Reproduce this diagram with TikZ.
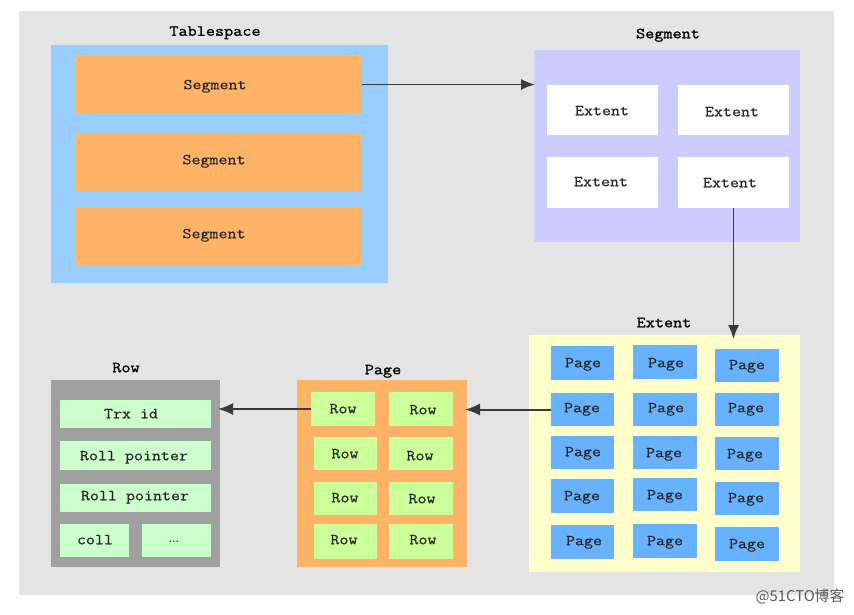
\documentclass[tikz,border=0pt]{standalone}
\usepackage{fontspec}
\usepackage{tikz}
\usetikzlibrary{arrows.meta}
\newfontfamily\cellfont[FakeStretch=1.15,FakeBold=0.4]{Latin Modern Mono}
\newfontfamily\lblfont[FakeStretch=1.15,FakeBold=1.2]{Latin Modern Mono}
\newfontfamily\markfont{Noto Sans CJK SC}
\definecolor{bgc}{HTML}{E4E4E4}
\definecolor{tsc}{HTML}{99CCFF}
\definecolor{orc}{HTML}{FFB366}
\definecolor{sgc}{HTML}{CCCCFF}
\definecolor{exc}{HTML}{FFFFCC}
\definecolor{pgc}{HTML}{66B2FF}
\definecolor{rwc}{HTML}{CCFF99}
\definecolor{fdc}{HTML}{CCFFCC}
\definecolor{grc}{HTML}{A0A0A0}
\definecolor{arc}{HTML}{3A3A3A}
\tikzset{
  panel/.style={inner sep=0pt,outer sep=0pt,draw=none},
  celltext/.style={inner sep=0pt,text=black!85,font=\fontsize{15.2}{16}\cellfont,text height=7.5pt,text depth=0pt},
  title/.style={inner sep=0pt,text=black,font=\fontsize{15.4}{16}\lblfont,text height=7.5pt,text depth=0pt},
  thinarrow/.style={draw=arc,line width=1.6pt,shorten >=-1pt,-{Latex[length=14pt,width=11pt]}},
  thickarrow/.style={draw=arc,line width=2pt,shorten >=-2pt,-{Latex[length=15pt,width=12pt]}}
}
% name, x0,y0,x1,y1, colour
\newcommand{\pbox}[6]{%
  \pgfmathsetmacro{\pcx}{(#2+#4)/2}\pgfmathsetmacro{\pcy}{(#3+#5)/2}%
  \pgfmathsetmacro{\pw}{#4-#2}\pgfmathsetmacro{\ph}{#5-#3}%
  \node[panel,fill=#6,minimum width=\pw pt,minimum height=\ph pt] (#1) at (\pcx,\pcy) {};}
% name, x0,y0,x1,y1, colour, tx,ty, text
\newcommand{\tbox}[9]{\pbox{#1}{#2}{#3}{#4}{#5}{#6}\node[celltext] (#1-t) at (#7,#8) {#9};}
\begin{document}
\begin{tikzpicture}[x=1pt,y=-1pt]
\useasboundingbox (0,0) rectangle (854,614);
\fill[bgc,rounded corners=2pt] (19,11) rectangle (834,595);

% Tablespace
\node[title] (ttable) at (215,32) {Tablespace};
\pbox{table}{51}{45}{388}{283}{tsc}
\tbox{s1}{76}{56}{362}{113}{orc}{215}{85.5}{Segment}
\tbox{s2}{76}{134}{362}{191}{orc}{214}{160.5}{Segment}
\tbox{s3}{76}{208}{362}{265}{orc}{214}{234.5}{Segment}

% Segment
\node[title] (tseg) at (668,34.5) {Segment};
\pbox{seg}{534}{50}{800}{242}{sgc}
\tbox{e1}{547}{85}{658}{135}{white}{602}{111.5}{Extent}
\tbox{e2}{678}{85}{789}{135}{white}{732}{112.5}{Extent}
\tbox{e3}{547}{157}{658}{208}{white}{601}{182.5}{Extent}
\tbox{e4}{678}{157}{789}{208}{white}{730}{183.5}{Extent}

% Extent
\node[title] (text) at (664,323.5) {Extent};
\pbox{ext}{529}{335}{800}{572}{exc}
\tbox{p11}{551}{346}{614}{380}{pgc}{583}{363.5}{Page}
\tbox{p12}{551}{393}{614}{426}{pgc}{582}{408.5}{Page}
\tbox{p13}{551}{436}{614}{469}{pgc}{583}{452.5}{Page}
\tbox{p14}{551}{479}{614}{513}{pgc}{582}{496.5}{Page}
\tbox{p15}{551}{525}{614}{559}{pgc}{584}{541.5}{Page}
\tbox{p21}{633}{345}{697}{379}{pgc}{666}{363.5}{Page}
\tbox{p22}{633}{393}{697}{426}{pgc}{666}{408.5}{Page}
\tbox{p23}{633}{436}{697}{469}{pgc}{664}{453.5}{Page}
\tbox{p24}{633}{478}{697}{511}{pgc}{665}{495.5}{Page}
\tbox{p25}{633}{524}{697}{558}{pgc}{665}{541.5}{Page}
\tbox{p31}{715}{349}{779}{382}{pgc}{747}{365.5}{Page}
\tbox{p32}{715}{393}{779}{426}{pgc}{746}{408.5}{Page}
\tbox{p33}{715}{437}{779}{470}{pgc}{745}{454.5}{Page}
\tbox{p34}{715}{482}{779}{515}{pgc}{746}{498.5}{Page}
\tbox{p35}{715}{527}{779}{561}{pgc}{747}{544.5}{Page}

% Page
\node[title] (tpage) at (383,370.5) {Page};
\pbox{page}{297}{380}{467}{567}{orc}
\tbox{r11}{311}{392}{375}{426}{rwc}{343}{409.5}{Row}
\tbox{r12}{389}{392}{453}{426}{rwc}{423}{410.5}{Row}
\tbox{r21}{314}{437}{377}{470}{rwc}{345}{454.5}{Row}
\tbox{r22}{389}{437}{453}{470}{rwc}{420}{456.5}{Row}
\tbox{r31}{314}{482}{377}{515}{rwc}{345}{498.5}{Row}
\tbox{r32}{389}{482}{453}{515}{rwc}{422}{499.5}{Row}
\tbox{r41}{314}{524}{377}{559}{rwc}{344}{540.5}{Row}
\tbox{r42}{389}{524}{453}{559}{rwc}{423}{540.5}{Row}

% Row
\node[title] (trow) at (126,368.5) {Row};
\pbox{row}{51}{380}{220}{567}{grc}
\tbox{f1}{60}{400}{211}{428}{fdc}{131}{414.5}{Trx id}
\tbox{f2}{60}{441}{211}{470}{fdc}{134}{456.5}{Roll pointer}
\tbox{f3}{60}{484}{211}{512}{fdc}{135}{496.5}{Roll pointer}
\tbox{f4}{60}{524}{129}{557}{fdc}{95}{540.5}{coll}
\tbox{f5}{142}{524}{211}{557}{fdc}{174}{539}{\fontsize{11}{12}\rmfamily\bfseries ...}

% Connectors
\draw[thinarrow] (s1.east) -- (s1.east -| seg.west);
\draw[thinarrow] (e4.south) -- ([yshift=-3pt]e4.south |- ext.north);
\draw[thickarrow] (p12.west) -- (p12.west -| page.east);
\draw[thickarrow] (r11.west) -- (r11.west -| row.east);

\node[inner sep=0pt,text=black!65,font=\fontsize{14.8}{15}\markfont] (mark) at (800,596) {@51CTO博客};
\end{tikzpicture}
\end{document}
